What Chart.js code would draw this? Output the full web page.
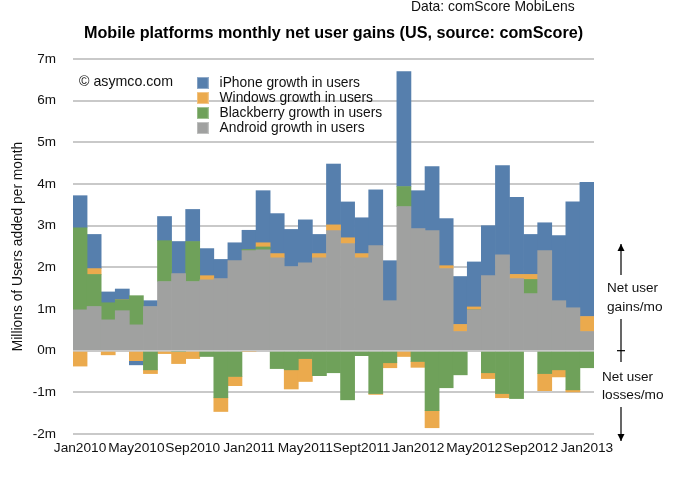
<!DOCTYPE html>
<html><head><meta charset="utf-8">
<style>html,body{margin:0;padding:0;background:#fff}canvas{display:block}</style>
<script src="https://cdn.jsdelivr.net/npm/chart.js@4"></script>
</head><body><canvas id="c" width="673" height="484"></canvas>
<script>
const months = ["Jan2010","Feb2010","Mar2010","Apr2010","May2010","Jun2010","Jul2010","Aug2010","Sep2010","Oct2010","Nov2010","Dec2010",
"Jan2011","Feb2011","Mar2011","Apr2011","May2011","Jun2011","Jul2011","Aug2011","Sept2011","Oct2011","Nov2011","Dec2011",
"Jan2012","Feb2012","Mar2012","Apr2012","May2012","Jun2012","Jul2012","Aug2012","Sep2012","Oct2012","Nov2012","Dec2012","Jan2013"];
const android = [0.98,1.06,0.74,0.96,0.62,1.06,1.66,1.85,1.66,1.70,1.73,2.16,2.40,2.42,2.23,2.02,2.11,2.23,2.88,2.57,2.23,2.52,1.20,3.46,2.93,2.88,1.97,0.46,0.98,1.80,2.30,1.73,1.37,2.40,1.20,1.03,0.46];
const blackberry = [1.97,0.77,0.41,0.26,0.70,-0.46,0.98,-0.02,0.96,-0.14,-1.13,-0.62,0.03,0.07,-0.43,-0.46,-0.19,-0.60,-0.53,-1.18,-0.12,-1.03,-0.29,0.48,-0.26,-1.44,-0.89,-0.58,0,-0.53,-1.03,-1.15,0.34,-0.55,-0.46,-0.94,-0.41];
const windowsPhone = [-0.37,0.14,-0.10,0,-0.24,-0.09,-0.07,-0.29,-0.19,0.10,-0.33,-0.22,-0.02,0.10,0.10,-0.46,-0.55,0.10,0.14,0.14,0.10,-0.02,-0.12,-0.14,-0.14,-0.41,0.07,0.17,0.07,-0.14,-0.10,0.10,0.12,-0.41,-0.17,-0.05,0.36];
const iphone = [0.77,0.82,0.26,0.26,-0.10,0.14,0.58,0.77,0.77,0.65,0.46,0.43,0.46,1.25,0.96,0.89,1.03,0.46,1.46,0.86,0.86,1.34,0.96,2.76,0.91,1.54,1.13,1.15,1.08,1.20,2.14,1.85,0.96,0.67,1.56,2.54,3.22];
const yTicksMin = -2, yTicksMax = 7;

const FONT = '"Liberation Sans", Arial, sans-serif';
const INK = '#111';
const COLORS = {iphone:'#567fad', win:'#ebaa4d', bb:'#6fa15a', android:'#a0a1a0'};
const GRID = '#c9c9c9';

function swatch(color){
  const c = document.createElement('canvas'); c.width = 12; c.height = 12;
  const g = c.getContext('2d');
  g.fillStyle = color; g.fillRect(0,0,12,12);
  g.strokeStyle = 'rgba(255,255,255,0.35)'; g.lineWidth = 1; g.strokeRect(0.5,0.5,11,11);
  return c;
}

const notes = [
  {t:'Data: comScore MobiLens', x:411, y:7, s:13.9},
  {t:'\u00a9 asymco.com', x:79, y:82, s:14.2},
  {t:'Net user', x:607, y:288, s:13.5},
  {t:'gains/mo', x:607, y:307, s:13.7},
  {t:'Net user', x:602, y:377, s:13.5},
  {t:'losses/mo', x:602, y:395, s:13.7}
];
const arrows = [[621,275,621,244],[621,362,621,319],[621,407,621,441]];

const overlay = {
  id:'overlay',
  afterLayout(chart){
    const L = chart.legend;
    L.left = 191.5; L.top = 74.9; L.right = 395; L.bottom = 150;
    L.width = L.right-L.left; L.height = L.bottom-L.top;
  },
  afterDatasetsDraw(chart){
    const {ctx, chartArea:a, scales:{y}} = chart, z = y.getPixelForValue(0);
    ctx.save(); ctx.strokeStyle = GRID; ctx.lineWidth = 1.5;
    ctx.beginPath(); ctx.moveTo(a.left,z); ctx.lineTo(a.right,z); ctx.stroke(); ctx.restore();
  },
  afterDraw(chart){
    const {ctx} = chart;
    ctx.save();
    ctx.fillStyle = INK; ctx.textBaseline = 'middle'; ctx.textAlign = 'left';
    notes.forEach(n => { ctx.font = n.s+'px '+FONT; ctx.fillText(n.t,n.x,n.y); });
    ctx.strokeStyle = '#000'; ctx.lineWidth = 1.2;
    arrows.forEach(([x1,y1,x2,y2]) => {
      ctx.beginPath(); ctx.moveTo(x1,y1); ctx.lineTo(x2,y2); ctx.stroke();
    });
    ctx.fillStyle = '#000';
    [[621,244,1],[621,441,-1]].forEach(([x,y,d]) => {
      ctx.beginPath(); ctx.moveTo(x,y); ctx.lineTo(x-3.5,y+7*d); ctx.lineTo(x+3.5,y+7*d); ctx.closePath(); ctx.fill();
    });
    const z = chart.scales.y.getPixelForValue(0);
    ctx.beginPath(); ctx.moveTo(617,z); ctx.lineTo(625,z); ctx.stroke();
    ctx.restore();
  }
};

new Chart(document.getElementById('c'), {
  type:'bar',
  data:{labels:months, datasets:[
    {label:'Android growth in users', data:android, backgroundColor:COLORS.android},
    {label:'Blackberry growth in users', data:blackberry, backgroundColor:COLORS.bb},
    {label:'Windows growth in users', data:windowsPhone, backgroundColor:COLORS.win},
    {label:'iPhone growth in users', data:iphone, backgroundColor:COLORS.iphone}
  ]},
  plugins:[overlay],
  options:{
    responsive:false, animation:false, devicePixelRatio:1,
    datasets:{bar:{barPercentage:1, categoryPercentage:1, borderWidth:0}},
    layout:{padding:{left:0,right:79,top:0,bottom:0}},
    font:{family:FONT},
    plugins:{
      tooltip:{enabled:false},
      title:{display:true, fullSize:false, text:'Mobile platforms monthly net user gains (US, source: comScore)',
        color:'#000', font:{family:FONT,size:16.2,weight:'bold',lineHeight:1.2}, padding:{top:24,bottom:15.6}},
      legend:{display:true, position:'chartArea', align:'start', reverse:true,
        labels:{color:INK, font:{family:FONT,size:13.8}, boxWidth:12, boxHeight:12, padding:1.2, usePointStyle:true, pointStyleWidth:20,
          generateLabels(ch){
            return Chart.defaults.plugins.legend.labels.generateLabels(ch).map(i=>({...i, pointStyle:swatch(i.fillStyle)}));
          }}}
    },
    scales:{
      x:{stacked:true, offset:true, border:{display:false}, grid:{display:false, drawTicks:false},
        afterFit(s){s.height=50;},
        ticks:{autoSkip:false, maxRotation:0, minRotation:0, padding:6, color:INK, font:{family:FONT,size:13.7},
          callback(v,i){return i%4===0 ? months[i] : '';}}},
      y:{stacked:true, min:yTicksMin, max:yTicksMax, border:{display:false},
        grid:{color:GRID, lineWidth:2, drawTicks:false},
        afterFit(s){s.width=73;},
        title:{display:true, text:'Millions of Users added per month', color:INK, font:{family:FONT,size:13.8}, padding:{top:10,bottom:0}},
        ticks:{stepSize:1, padding:17, color:INK, font:{family:FONT,size:13.5}, callback(v){return v+'m';}}}
    }
  }
});
</script></body></html>
